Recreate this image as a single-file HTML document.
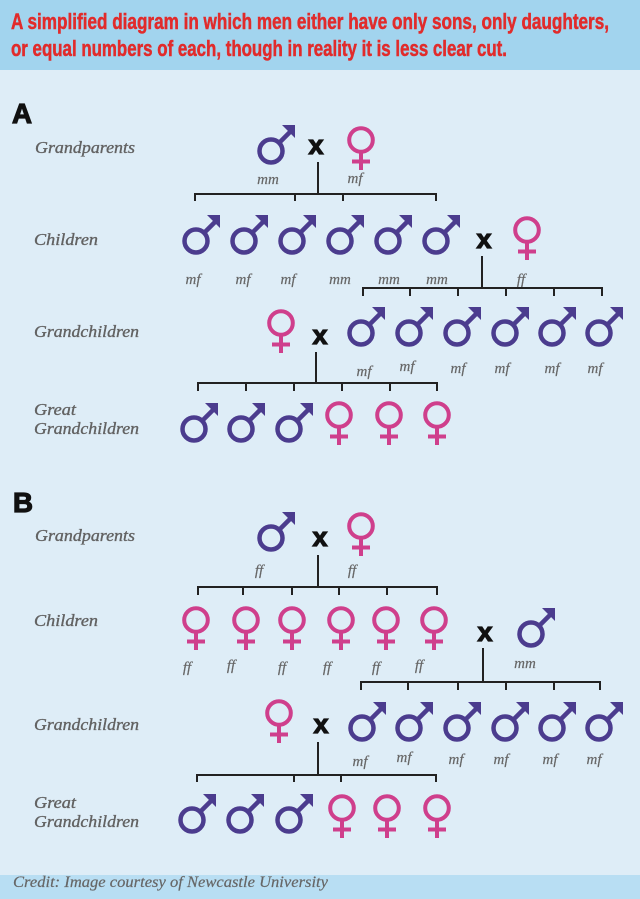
<!DOCTYPE html>
<html><head><meta charset="utf-8"><style>
html,body{margin:0;padding:0;background:#deedf7;}
svg{display:block;}
.lab{font-family:"Liberation Serif",serif;font-style:italic;fill:#626262;stroke:#626262;stroke-width:0.35;font-size:17px;}
.sm{font-family:"Liberation Serif",serif;font-style:italic;fill:#666;stroke:#666;stroke-width:0.2;font-size:15px;text-anchor:middle;}
.x{font-family:"Liberation Sans",sans-serif;font-weight:bold;font-size:27px;fill:#111;stroke:#111;stroke-width:1.2;text-anchor:middle;}
.big{font-family:"Liberation Sans",sans-serif;font-weight:bold;font-size:28px;fill:#111;stroke:#111;stroke-width:1.2;}
.ln{stroke:#222;stroke-width:2;fill:none;}
</style></head><body>
<svg width="640" height="899" viewBox="0 0 640 899" xmlns="http://www.w3.org/2000/svg">
<defs>
<g id="m">
<circle cx="0" cy="0" r="11.5" fill="none" stroke="#4b3c8e" stroke-width="4.5"/>
<line x1="8" y1="-8" x2="19" y2="-19" stroke="#4b3c8e" stroke-width="4.5"/>
<polygon points="24,-26 11,-26 24,-13" fill="#4b3c8e"/>
</g>
<g id="f">
<circle cx="0" cy="0" r="11.8" fill="none" stroke="#cf3f8c" stroke-width="4"/>
<line x1="0" y1="12" x2="0" y2="30" stroke="#cf3f8c" stroke-width="4"/>
<line x1="-9" y1="21.5" x2="9" y2="21.5" stroke="#cf3f8c" stroke-width="4"/>
</g>
</defs>
<rect x="0" y="0" width="640" height="899" fill="#deedf7"/>
<rect x="0" y="0" width="640" height="70" fill="#a2d4ee"/>
<rect x="0" y="875" width="640" height="24" fill="#b8def3"/>
<text x="11" y="29" font-family="Liberation Sans Narrow, Liberation Sans, sans-serif" font-weight="bold" font-size="22" fill="#e12b2b" stroke="#e12b2b" stroke-width="0.5" textLength="598" lengthAdjust="spacingAndGlyphs">A simplified diagram in which men either have only sons, only daughters,</text>
<text x="11" y="56" font-family="Liberation Sans Narrow, Liberation Sans, sans-serif" font-weight="bold" font-size="22" fill="#e12b2b" stroke="#e12b2b" stroke-width="0.5" textLength="496" lengthAdjust="spacingAndGlyphs">or equal numbers of each, though in reality it is less clear cut.</text>

<!-- Section A -->
<text class="big" x="12" y="123" textLength="20" lengthAdjust="spacingAndGlyphs">A</text>
<text class="lab" x="35" y="153" textLength="100" lengthAdjust="spacingAndGlyphs">Grandparents</text>
<text class="lab" x="34" y="245" textLength="64" lengthAdjust="spacingAndGlyphs">Children</text>
<text class="lab" x="34" y="337" textLength="105" lengthAdjust="spacingAndGlyphs">Grandchildren</text>
<text class="lab" x="34" y="415" textLength="42" lengthAdjust="spacingAndGlyphs">Great</text>
<text class="lab" x="34" y="434" textLength="105" lengthAdjust="spacingAndGlyphs">Grandchildren</text>

<use href="#m" x="271" y="151"/>
<text class="x" x="316" y="154">x</text>
<use href="#f" x="361" y="140"/>
<text class="sm" x="268" y="184">mm</text>
<text class="sm" x="355" y="183">mf</text>
<path class="ln" d="M318 162V194M195 194H436M195 193V201M295 193V201M343 193V201M436 193V201"/>

<use href="#m" x="196" y="241"/>
<use href="#m" x="244" y="241"/>
<use href="#m" x="292" y="241"/>
<use href="#m" x="340" y="241"/>
<use href="#m" x="388" y="241"/>
<use href="#m" x="436" y="241"/>
<text class="x" x="484" y="248">x</text>
<use href="#f" x="527" y="230"/>
<text class="sm" x="193" y="284">mf</text>
<text class="sm" x="243" y="284">mf</text>
<text class="sm" x="288" y="284">mf</text>
<text class="sm" x="340" y="284">mm</text>
<text class="sm" x="389" y="284">mm</text>
<text class="sm" x="437" y="284">mm</text>
<text class="sm" x="521" y="284">ff</text>
<path class="ln" d="M482 256V288M363 288H602M363 287V296M410 287V296M458 287V296M506 287V296M554 287V296M602 287V296"/>

<use href="#f" x="281" y="323"/>
<text class="x" x="320" y="344">x</text>
<use href="#m" x="361" y="333"/>
<use href="#m" x="409" y="333"/>
<use href="#m" x="457" y="333"/>
<use href="#m" x="505" y="333"/>
<use href="#m" x="552" y="333"/>
<use href="#m" x="599" y="333"/>
<text class="sm" x="364" y="376">mf</text>
<text class="sm" x="407" y="371">mf</text>
<text class="sm" x="458" y="373">mf</text>
<text class="sm" x="502" y="373">mf</text>
<text class="sm" x="552" y="373">mf</text>
<text class="sm" x="595" y="373">mf</text>
<path class="ln" d="M316 352V383M198 383H437M198 382V391M246 382V391M294 382V391M342 382V391M390 382V391M437 382V391"/>

<use href="#m" x="194" y="429"/>
<use href="#m" x="241" y="429"/>
<use href="#m" x="289" y="429"/>
<use href="#f" x="339" y="415"/>
<use href="#f" x="389" y="415"/>
<use href="#f" x="437" y="415"/>

<!-- Section B -->
<text class="big" x="13" y="512" textLength="20" lengthAdjust="spacingAndGlyphs">B</text>
<text class="lab" x="35" y="541" textLength="100" lengthAdjust="spacingAndGlyphs">Grandparents</text>
<text class="lab" x="34" y="626" textLength="64" lengthAdjust="spacingAndGlyphs">Children</text>
<text class="lab" x="34" y="730" textLength="105" lengthAdjust="spacingAndGlyphs">Grandchildren</text>
<text class="lab" x="34" y="808" textLength="42" lengthAdjust="spacingAndGlyphs">Great</text>
<text class="lab" x="34" y="827" textLength="105" lengthAdjust="spacingAndGlyphs">Grandchildren</text>

<use href="#m" x="271" y="538"/>
<text class="x" x="320" y="546">x</text>
<use href="#f" x="361" y="526"/>
<text class="sm" x="259" y="575">ff</text>
<text class="sm" x="352" y="575">ff</text>
<path class="ln" d="M318 555V587M198 587H437M198 586V595M243 586V595M292 586V595M339 586V595M387 586V595M437 586V595"/>

<use href="#f" x="196" y="620"/>
<use href="#f" x="246" y="620"/>
<use href="#f" x="292" y="620"/>
<use href="#f" x="341" y="620"/>
<use href="#f" x="386" y="620"/>
<use href="#f" x="434" y="620"/>
<text class="x" x="485" y="641">x</text>
<use href="#m" x="531" y="634"/>
<text class="sm" x="187" y="672">ff</text>
<text class="sm" x="231" y="670">ff</text>
<text class="sm" x="282" y="672">ff</text>
<text class="sm" x="327" y="672">ff</text>
<text class="sm" x="376" y="672">ff</text>
<text class="sm" x="419" y="670">ff</text>
<text class="sm" x="525" y="668">mm</text>
<path class="ln" d="M483 648V682M361 682H600M361 681V690M408 681V690M458 681V690M506 681V690M554 681V690M600 681V690"/>

<use href="#f" x="279" y="713"/>
<text class="x" x="321" y="733">x</text>
<use href="#m" x="362" y="728"/>
<use href="#m" x="409" y="728"/>
<use href="#m" x="457" y="728"/>
<use href="#m" x="505" y="728"/>
<use href="#m" x="552" y="728"/>
<use href="#m" x="599" y="728"/>
<text class="sm" x="360" y="766">mf</text>
<text class="sm" x="404" y="762">mf</text>
<text class="sm" x="456" y="764">mf</text>
<text class="sm" x="501" y="764">mf</text>
<text class="sm" x="550" y="764">mf</text>
<text class="sm" x="594" y="764">mf</text>
<path class="ln" d="M318 742V775M197 775H436M197 774V782M294 774V782M341 774V782M436 774V782"/>

<use href="#m" x="192" y="820"/>
<use href="#m" x="240" y="820"/>
<use href="#m" x="289" y="820"/>
<use href="#f" x="342" y="808"/>
<use href="#f" x="387" y="808"/>
<use href="#f" x="437" y="808"/>

<text x="13" y="887" font-family="Liberation Serif, serif" font-style="italic" font-size="16" fill="#666" stroke="#666" stroke-width="0.2" textLength="315" lengthAdjust="spacingAndGlyphs">Credit: Image courtesy of Newcastle University</text>
</svg>
</body></html>
